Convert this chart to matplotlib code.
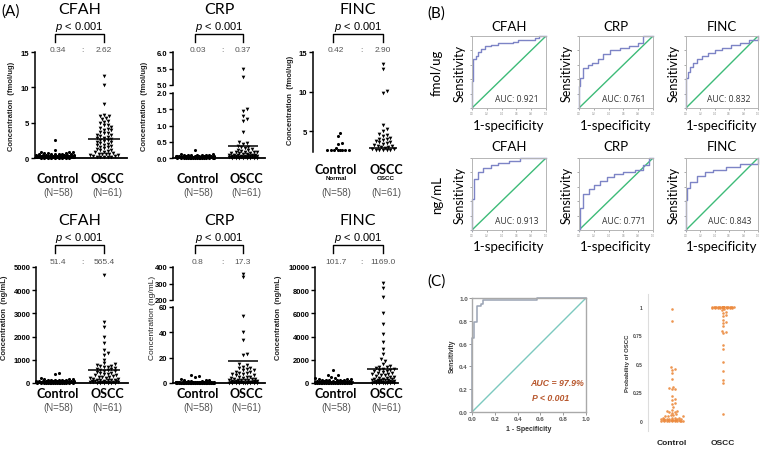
import numpy as np
import matplotlib
matplotlib.use('Agg')
import matplotlib.pyplot as plt
from matplotlib.lines import Line2D

plt.rcParams['mathtext.fontset'] = 'custom'
plt.rcParams['mathtext.it'] = 'Liberation Sans:italic'
plt.rcParams['mathtext.rm'] = 'Liberation Sans'

# ------------------------------------------------------------------ data
groups = ['Control', 'OSCC']
group_n = ['(N=58)', '(N=61)']
proteins = ['CFAH', 'CRP', 'FINC']

means_fmol = {'CFAH': [0.34, 2.62], 'CRP': [0.03, 0.37], 'FINC': [0.42, 2.90]}
means_ng = {'CFAH': [51.4, 565.4], 'CRP': [0.8, 17.3], 'FINC': [101.7, 1169.0]}

cfah_fmol_ctrl = [2.5, 1.2, 0.9, 0.85, 0.8, 0.75, 0.7, 0.65, 0.6, 0.6, 0.55, 0.5, 0.5, 0.5, 0.45,
                  0.45, 0.4, 0.4, 0.4, 0.4, 0.35, 0.35, 0.35, 0.3, 0.3, 0.3, 0.3, 0.3, 0.25, 0.25,
                  0.25, 0.25, 0.2, 0.2, 0.2, 0.2, 0.2, 0.15, 0.15, 0.15, 0.15, 0.1, 0.1, 0.1, 0.1,
                  0.1, 0.1, 0.08, 0.08, 0.06, 0.06, 0.05, 0.05, 0.04, 0.03, 0.03, 0.02, 0.02]
cfah_fmol_oscc = [11.6, 10.4, 7.7, 6.1, 6.0, 5.9, 5.7, 5.5, 5.3, 5.1, 4.9, 4.7, 4.6, 4.4, 4.3, 4.1,
                  4.0, 3.9, 3.7, 3.6, 3.5, 3.3, 3.2, 3.1, 3.0, 2.9, 2.8, 2.7, 2.6, 2.5, 2.4, 2.3,
                  2.2, 2.1, 2.0, 1.9, 1.8, 1.7, 1.6, 1.5, 1.4, 1.3, 1.2, 1.1, 1.0, 0.9, 0.8, 0.7,
                  0.6, 0.6, 0.5, 0.5, 0.4, 0.4, 0.3, 0.3, 0.2, 0.2, 0.1, 0.1, 0.1]
crp_fmol_ctrl = [0.25, 0.12, 0.11, 0.1, 0.1, 0.09, 0.09, 0.08, 0.08, 0.08, 0.07, 0.07, 0.07, 0.06,
                 0.06, 0.06, 0.06, 0.05, 0.05, 0.05, 0.05, 0.05, 0.04, 0.04, 0.04, 0.04, 0.04, 0.03,
                 0.03, 0.03, 0.03, 0.03, 0.03, 0.02, 0.02, 0.02, 0.02, 0.02, 0.02, 0.02, 0.01, 0.01,
                 0.01, 0.01, 0.01, 0.01, 0.01, 0.01, 0.005, 0.005, 0.005, 0.005, 0.005, 0.0, 0.0,
                 0.0, 0.0, 0.0]
crp_fmol_oscc = [5.5, 5.25, 1.5, 1.45, 1.3, 1.2, 1.15, 0.8, 0.5, 0.45, 0.42, 0.38, 0.35, 0.33, 0.3,
                 0.28, 0.26, 0.25, 0.22, 0.2, 0.2, 0.18, 0.17, 0.15, 0.15, 0.14, 0.12, 0.12, 0.1,
                 0.1, 0.1, 0.09, 0.08, 0.08, 0.07, 0.07, 0.06, 0.06, 0.05, 0.05, 0.05, 0.04, 0.04,
                 0.04, 0.03, 0.03, 0.03, 0.03, 0.02, 0.02, 0.02, 0.02, 0.02, 0.01, 0.01, 0.01,
                 0.01, 0.01, 0.01, 0.0, 0.0]
finc_fmol_ctrl = [4.75, 4.4, 3.5, 3.4, 2.9, 2.7, 2.7, 2.7, 2.7, 2.7, 2.7, 2.7, 2.7]
finc_fmol_oscc = [13.5, 12.9, 10.1, 9.8, 5.8, 5.3, 5.0, 4.7, 4.5, 4.4, 4.2, 4.1, 4.0, 3.9, 3.8,
                  3.7, 3.6, 3.5, 3.4, 3.3, 3.2, 3.1, 3.0, 3.0, 2.9, 2.8, 2.8, 2.7, 2.7, 2.7, 2.6, 2.6]

cfah_ng_ctrl = [430, 400, 210, 190, 170, 160, 150, 140, 130, 120, 115, 110, 105, 100, 95, 90, 85,
                80, 78, 75, 72, 70, 68, 65, 62, 60, 58, 55, 52, 50, 48, 45, 42, 40, 38, 35, 32, 30,
                28, 25, 22, 20, 18, 16, 15, 14, 12, 10, 9, 8, 7, 6, 5, 4, 3, 2, 1, 1]
cfah_ng_oscc = [4640, 2630, 2420, 1980, 1740, 1410, 1310, 1200, 1010, 850, 800, 780, 750, 720,
                700, 680, 650, 620, 600, 580, 550, 520, 500, 480, 450, 420, 400, 380, 350, 330,
                300, 280, 260, 240, 220, 200, 180, 160, 150, 140, 130, 120, 110, 100, 90, 80, 70,
                60, 55, 50, 45, 40, 35, 30, 25, 20, 15, 12, 10, 8, 5]
crp_ng_ctrl = [6.0, 5.5, 5.0, 3.0, 2.5, 2.0, 2.0, 1.5, 1.5, 1.2, 1.0, 1.0, 0.9, 0.8, 0.8, 0.7, 0.7,
               0.6, 0.6, 0.5, 0.5, 0.5, 0.4, 0.4, 0.4, 0.35, 0.3, 0.3, 0.3, 0.25, 0.25, 0.2, 0.2,
               0.2, 0.2, 0.15, 0.15, 0.15, 0.1, 0.1, 0.1, 0.1, 0.1, 0.08, 0.08, 0.06, 0.06, 0.05,
               0.05, 0.04, 0.03, 0.03, 0.02, 0.02, 0.01, 0.01, 0.0, 0.0]
crp_ng_oscc = [359, 339, 52.6, 40.3, 33.7, 23.2, 21.9, 15, 14, 13, 12, 12, 11, 10, 10, 9, 9, 8, 8,
               7, 7, 6, 6, 5, 5, 4.5, 4, 4, 3.5, 3, 3, 2.5, 2.5, 2, 2, 2, 1.5, 1.5, 1.5, 1.2, 1,
               1, 1, 0.8, 0.8, 0.6, 0.6, 0.5, 0.5, 0.4, 0.4, 0.3, 0.3, 0.2, 0.2, 0.2, 0.1, 0.1,
               0.1, 0.05, 0.05]
finc_ng_ctrl = [1090, 700, 650, 500, 450, 400, 380, 350, 320, 300, 280, 260, 250, 240, 220, 200,
                190, 180, 170, 160, 150, 140, 130, 120, 110, 100, 95, 90, 85, 80, 75, 70, 65, 60,
                55, 50, 45, 40, 38, 35, 32, 30, 28, 25, 22, 20, 18, 15, 12, 10, 9, 8, 7, 6, 5, 4,
                3, 2]
finc_ng_oscc = [8600, 8200, 7400, 6000, 5100, 4200, 3500, 2900, 2500, 2100, 1900, 1650, 1470,
                1400, 1350, 1300, 1250, 1200, 1150, 1100, 1050, 1000, 950, 900, 850, 800, 750,
                700, 650, 600, 550, 500, 450, 400, 380, 350, 320, 300, 280, 260, 240, 220, 200,
                180, 160, 140, 120, 100, 90, 80, 70, 60, 50, 40, 35, 30, 25, 20, 15, 10, 5]

# ROC curves (panel B) - step vertices
roc_fpr = {
    ('CFAH', 'f'): [0, 0, 0.02, 0.05, 0.08, 0.12, 0.17, 0.25, 0.35, 0.55, 0.62, 0.85, 0.9, 1.0],
    ('CRP', 'f'): [0, 0, 0.02, 0.05, 0.12, 0.18, 0.25, 0.32, 0.42, 0.55, 0.68, 0.8, 0.87, 1.0],
    ('FINC', 'f'): [0, 0, 0.03, 0.06, 0.1, 0.15, 0.22, 0.3, 0.4, 0.5, 0.62, 0.75, 0.88, 1.0],
    ('CFAH', 'n'): [0, 0, 0.03, 0.08, 0.15, 0.25, 0.35, 0.5, 0.65, 1.0],
    ('CRP', 'n'): [0, 0.02, 0.02, 0.06, 0.13, 0.2, 0.28, 0.38, 0.47, 0.6, 0.75, 0.87, 0.94, 1.0],
    ('FINC', 'n'): [0, 0, 0.02, 0.06, 0.15, 0.26, 0.38, 0.56, 0.75, 1.0],
}
roc_tpr = {
    ('CFAH', 'f'): [0, 0.38, 0.68, 0.72, 0.78, 0.82, 0.86, 0.88, 0.9, 0.92, 0.95, 0.97, 1.0, 1.0],
    ('CRP', 'f'): [0, 0.3, 0.42, 0.55, 0.6, 0.63, 0.68, 0.75, 0.8, 0.84, 0.86, 0.9, 1.0, 1.0],
    ('FINC', 'f'): [0, 0.42, 0.5, 0.57, 0.63, 0.68, 0.72, 0.76, 0.8, 0.83, 0.87, 0.9, 0.94, 1.0],
    ('CFAH', 'n'): [0, 0.43, 0.71, 0.8, 0.86, 0.9, 0.93, 0.96, 1.0, 1.0],
    ('CRP', 'n'): [0, 0, 0.3, 0.5, 0.57, 0.63, 0.68, 0.74, 0.78, 0.8, 0.83, 0.9, 1.0, 1.0],
    ('FINC', 'n'): [0, 0.42, 0.58, 0.66, 0.75, 0.8, 0.84, 0.88, 0.92, 1.0],
}
auc_f = {'CFAH': 0.921, 'CRP': 0.761, 'FINC': 0.832}
auc_n = {'CFAH': 0.913, 'CRP': 0.771, 'FINC': 0.843}

# panel C
rocc_fpr = [0, 0, 0.02, 0.02, 0.04, 0.04, 0.08, 0.08, 0.1, 0.1, 0.57, 0.57, 1.0]
rocc_tpr = [0, 0.65, 0.65, 0.79, 0.79, 0.93, 0.93, 0.95, 0.95, 0.98, 0.98, 1.0, 1.0]
auc_c = '97.9%'
prob_ctrl = [0.98, 0.88, 0.47, 0.46, 0.45, 0.42, 0.37, 0.30, 0.29, 0.28, 0.28, 0.22, 0.19, 0.18,
             0.16, 0.15, 0.12, 0.10, 0.09, 0.09, 0.08, 0.08, 0.07, 0.06, 0.05, 0.05, 0.04, 0.04,
             0.04, 0.03, 0.03, 0.03, 0.03, 0.02, 0.02, 0.02, 0.02, 0.02, 0.02, 0.01, 0.01, 0.01,
             0.01, 0.01, 0.01, 0.01, 0.01, 0.01, 0.0, 0.0, 0.0, 0.0, 0.0, 0.0, 0.0, 0.0, 0.0, 0.0]
prob_oscc = [1.0, 1.0, 1.0, 1.0, 1.0, 1.0, 1.0, 1.0, 1.0, 1.0, 1.0, 1.0, 1.0, 1.0, 1.0, 1.0, 1.0,
             1.0, 1.0, 1.0, 1.0, 1.0, 1.0, 1.0, 1.0, 1.0, 1.0, 1.0, 1.0, 1.0, 0.99, 0.99, 0.99,
             0.99, 0.99, 0.99, 0.99, 0.99, 0.98, 0.97, 0.96, 0.95, 0.93, 0.92, 0.89, 0.87, 0.86,
             0.83, 0.79, 0.78, 0.77, 0.67, 0.63, 0.52, 0.44, 0.36, 0.33, 0.06]

# ------------------------------------------------------------------ helpers
W, H = 760, 452
fig = plt.figure(figsize=(7.6, 4.52), dpi=100)
fig.patch.set_facecolor('white')

TITLE_FONT = ['Lato', 'DejaVu Sans']
ARIAL = ['Liberation Sans', 'DejaVu Sans']
NARROW = ['Liberation Sans Narrow', 'Liberation Sans', 'DejaVu Sans']


def fx(x):
    return x / W


def fy(y):
    return 1 - y / H


def add_ax(l, t, r, b):
    return fig.add_axes([l / W, 1 - b / H, (r - l) / W, (b - t) / H])


def ftext(x, y, s, **kw):
    kw.setdefault('ha', 'center')
    kw.setdefault('va', 'center')
    fig.text(fx(x), fy(y), s, **kw)


def fline(xs, ys, **kw):
    fig.add_artist(Line2D([fx(x) for x in xs], [fy(y) for y in ys],
                          transform=fig.transFigure, **kw))


def swarm_x(ax, xc, vals, diam, maxhalf):
    vals = np.asarray(vals, float)
    if len(vals) == 0:
        return np.array([])
    ypx = ax.transData.transform(np.column_stack([np.full(len(vals), xc), vals]))[:, 1]
    ux = ax.transData.transform((1, 0))[0] - ax.transData.transform((0, 0))[0]
    order = np.argsort(vals, kind='stable')
    step = diam * 0.55
    nmax = int(maxhalf / step)
    cands = [0.0]
    for k in range(1, nmax + 1):
        cands += [k * step, -k * step]
    px_, py_ = [], []
    offs = np.zeros(len(vals))
    for i in order:
        best, bestd = 0.0, -1.0
        for c in cands:
            if px_:
                d = np.min(np.hypot(np.array(px_) - c, np.array(py_) - ypx[i]))
            else:
                d = np.inf
            if d >= diam:
                best = c
                break
            if d > bestd:
                best, bestd = c, d
        offs[i] = best
        px_.append(best)
        py_.append(ypx[i])
    return xc + offs / ux


def dot_panel(left, right, xc, segs, ctrl, oscc, means, spread=(20, 15), bottom=True):
    unit = xc[1] - xc[0]
    axes = []
    for k, (t, b, ylim, ticks, tlabels) in enumerate(segs):
        ax = add_ax(left, t, right, b)
        ax.set_xlim((left - xc[0]) / unit, (right - xc[0]) / unit)
        ax.set_ylim(*ylim)
        ax.patch.set_alpha(0)
        for s in ['top', 'right']:
            ax.spines[s].set_visible(False)
        is_bottom = (k == len(segs) - 1)
        ax.spines['bottom'].set_visible(is_bottom and bottom)
        ax.spines['left'].set_linewidth(1.1)
        ax.spines['bottom'].set_linewidth(1.3)
        ax.set_xticks([])
        ax.set_yticks(ticks)
        ax.set_yticklabels(tlabels, fontsize=5.5, fontweight='bold', family=NARROW)
        ax.tick_params(axis='y', direction='out', length=3, width=1, pad=1)
        for gi, (vals, mk, sz) in enumerate([(ctrl, 'o', 5), (oscc, 'v', 7)]):
            v = [a for a in vals if ylim[0] <= a <= ylim[1]]
            xs = swarm_x(ax, gi, v, 3.2, spread[gi])
            ax.scatter(xs, v, marker=mk, s=sz, color='black', linewidths=0, clip_on=False,
                       zorder=3)
            m = means[gi]
            if ylim[0] <= m <= ylim[1]:
                half = 0.42 if gi == 0 else 0.32
                ax.plot([gi - half, gi + half], [m, m], color='black', lw=1.1, zorder=4,
                        solid_capstyle='butt')
        axes.append(ax)
    return axes


def panel_text(xc, ytitle, title, means, fmt):
    mid = (xc[0] + xc[1]) / 2
    ftext(mid, ytitle, title, fontsize=11.5, family=TITLE_FONT)
    ftext(mid, ytitle + 17, r'$p$ < 0.001', fontsize=8, family=ARIAL)
    fline([xc[0], xc[0], xc[1], xc[1]], [ytitle + 33, ytitle + 25, ytitle + 25, ytitle + 33],
          color='black', lw=1)
    ftext(xc[0] + 3, ytitle + 41, fmt.format(means[0]), fontsize=6, color='#555555',
          family=ARIAL)
    ftext(mid + 3, ytitle + 41, ':', fontsize=6, color='#555555', family=ARIAL)
    ftext(xc[1], ytitle + 41, fmt.format(means[1]), fontsize=6, color='#555555', family=ARIAL)


def group_labels(xc, y, ny, sub=None):
    for i in range(2):
        ftext(xc[i] + 3, y, groups[i], fontsize=9, fontweight='bold', family=TITLE_FONT)
        ftext(xc[i] + 3, ny, group_n[i], fontsize=7, color='#555555', family=ARIAL)
        if sub is not None:
            ftext(xc[i] + 3, y + 9, sub[i], fontsize=4.5, fontweight='bold', family=ARIAL)


# ------------------------------------------------------------------ panel A
ftext(11, 12, '(A)', fontsize=11, family=TITLE_FONT)

# top row (fmol/ug)
xc1 = (55, 104)
dot_panel(35, 127, xc1, [(53, 159, (0, 15), [0, 5, 10, 15], ['0', '5', '10', '15'])],
          cfah_fmol_ctrl, cfah_fmol_oscc, means_fmol['CFAH'])
panel_text(xc1, 10, 'CFAH', means_fmol['CFAH'], '{:.2f}')
group_labels(xc1, 179, 193)
ftext(12, 106, 'Concentration  (fmol/ug)', rotation=90, fontsize=5.5, fontweight='bold',
      family=ARIAL, color='#222222')

xc2 = (195, 243)
dot_panel(173, 265, xc2,
          [(53, 86, (5.0, 6.0), [5.0, 5.5, 6.0], ['5.0', '5.5', '6.0']),
           (94, 159, (0, 2.0), [0, 0.5, 1.0, 1.5, 2.0], ['0.0', '0.5', '1.0', '1.5', '2.0'])],
          crp_fmol_ctrl, crp_fmol_oscc, means_fmol['CRP'])
panel_text(xc2, 10, 'CRP', means_fmol['CRP'], '{:.2f}')
group_labels(xc2, 179, 193)
ftext(145, 106, 'Concentration  (fmol/ug)', rotation=90, fontsize=5.5, fontweight='bold',
      family=ARIAL, color='#222222')

xc3 = (338, 383)
dot_panel(313, 398, xc3, [(53, 153, (2.4, 15), [5, 10, 15], ['5', '10', '15'])],
          finc_fmol_ctrl, finc_fmol_oscc, means_fmol['FINC'], spread=(13, 11), bottom=False)
panel_text((333, 383), 10, 'FINC', means_fmol['FINC'], '{:.2f}')
group_labels((333, 383), 170, 193, sub=['Normal', 'OSCC'])
ftext(290, 100, 'Concentration  (fmol/ug)', rotation=90, fontsize=5.5, fontweight='bold',
      family=ARIAL, color='#222222')

# bottom row (ng/mL)
dot_panel(36, 128, xc1, [(268, 384, (0, 5000), [0, 1000, 2000, 3000, 4000, 5000],
                          ['0', '1000', '2000', '3000', '4000', '5000'])],
          cfah_ng_ctrl, cfah_ng_oscc, means_ng['CFAH'])
panel_text(xc1, 221, 'CFAH', means_ng['CFAH'], '{:.1f}')
group_labels(xc1, 394, 408)
ftext(5, 318, 'Concentration  (ng/mL)', rotation=90, fontsize=5.5, fontweight='bold',
      family=ARIAL, color='#222222')

dot_panel(173, 265, xc2,
          [(268, 301, (200, 400), [200, 300, 400], ['200', '300', '400']),
           (308, 384, (0, 60), [0, 20, 40, 60], ['0', '20', '40', '60'])],
          crp_ng_ctrl, crp_ng_oscc, means_ng['CRP'])
panel_text(xc2, 221, 'CRP', means_ng['CRP'], '{:.1f}')
group_labels(xc2, 394, 408)
ftext(152, 318, 'Concentration (ng/mL)', rotation=90, fontsize=6, family=NARROW,
      color='#222222')

dot_panel(315, 398, (333, 383), [(268, 384, (0, 10000), [0, 2000, 4000, 6000, 8000, 10000],
                                  ['0', '2000', '4000', '6000', '8000', '10000'])],
          finc_ng_ctrl, finc_ng_oscc, means_ng['FINC'], spread=(18, 11))
panel_text((333, 383), 221, 'FINC', means_ng['FINC'], '{:.1f}')
group_labels((333, 383), 394, 408)
ftext(279, 318, 'Concentration  (ng/mL)', rotation=90, fontsize=5.5, fontweight='bold',
      family=ARIAL, color='#222222')

# ------------------------------------------------------------------ panel B
ftext(436, 14, '(B)', fontsize=11, family=TITLE_FONT)
ROC_BLUE = '#7d84c6'
DIAG_GREEN = '#3dbb78'
bx = [(472, 546), (579, 653), (686, 758)]
rows = [('f', 37, 109, 27, 126, auc_f), ('n', 159, 231, 147, 247, auc_n)]
for key, t, b, ty, xly, aucs in rows:
    for j, p in enumerate(proteins):
        l, r = bx[j]
        ax = add_ax(l, t, r, b)
        ax.set_xlim(0, 1)
        ax.set_ylim(0, 1)
        ax.plot([0, 1], [0, 1], color=DIAG_GREEN, lw=1)
        ax.plot(roc_fpr[(p, key)], roc_tpr[(p, key)], drawstyle='steps-post', color=ROC_BLUE,
                lw=1, clip_on=False)
        for s in ax.spines.values():
            s.set_color('#b5b5b5')
            s.set_linewidth(0.7)
        ticks = [0, 0.2, 0.4, 0.6, 0.8, 1.0]
        ax.set_xticks(ticks)
        ax.set_yticks(ticks)
        ax.set_xticklabels(['0.0', '0.2', '0.4', '0.6', '0.8', '1.0'], fontsize=1.8,
                           color='#888888')
        ax.set_yticklabels([])
        ax.tick_params(length=1.5, width=0.5, color='#888888', pad=1)
        ax.text(0.6, 0.13, 'AUC: {:.3f}'.format(aucs[p]), transform=ax.transAxes,
                ha='center', va='center', fontsize=6.2, color='#333333',
                family=['Open Sans', 'DejaVu Sans'])
        ftext((l + r) / 2, ty, p, fontsize=9.5, family=TITLE_FONT)
        ftext((l + r) / 2, xly, '1-specificity', fontsize=9.5, family=TITLE_FONT)
        ftext(l - 12, (t + b) / 2, 'Sensitivity', rotation=90, fontsize=9, family=TITLE_FONT)
ftext(437, 73, 'fmol/ug', rotation=90, fontsize=9.5, family=TITLE_FONT)
ftext(437, 195, 'ng/mL', rotation=90, fontsize=9.5, family=TITLE_FONT)

# ------------------------------------------------------------------ panel C
ftext(437, 282, '(C)', fontsize=11, family=TITLE_FONT)
axc = add_ax(472, 299, 586, 413)
axc.set_xlim(0, 1)
axc.set_ylim(0, 1)
axc.plot([0, 1], [0, 1], color='#7cc9bf', lw=1)
axc.plot(rocc_fpr, rocc_tpr, color='#9aa3b4', lw=1.1, clip_on=False)
for s in axc.spines.values():
    s.set_color('#a9a9a9')
    s.set_linewidth(1)
ct = [0, 0.2, 0.4, 0.6, 0.8, 1.0]
axc.set_xticks(ct)
axc.set_yticks(ct)
axc.set_xticklabels(['0.0', '0.2', '0.4', '0.6', '0.8', '1.0'], fontsize=4.5,
                    fontweight='bold', color='#555555', family=ARIAL)
axc.set_yticklabels(['0.0', '0.2', '0.4', '0.6', '0.8', '1.0'], fontsize=4.5,
                    fontweight='bold', color='#555555', family=ARIAL)
axc.tick_params(length=2, width=0.6, color='#888888', pad=1)
axc.set_xlabel('1 - Specificity', fontsize=5, fontweight='bold', color='#333333',
               family=ARIAL, labelpad=3)
axc.set_ylabel('Sensitivity', fontsize=4.8, fontweight='bold', color='#333333',
               family=ARIAL, labelpad=2)
axc.text(0.75, 0.26, 'AUC = ' + auc_c, transform=axc.transAxes, ha='center', va='center',
         fontsize=6.3, fontweight='bold', style='italic', color='#b8582e', family=ARIAL)
axc.text(0.69, 0.13, 'P < 0.001', transform=axc.transAxes, ha='center', va='center',
         fontsize=6.3, fontweight='bold', style='italic', color='#b8582e', family=ARIAL)

# probability scatter
axp = add_ax(648, 295, 760, 432)
ux0, ux1 = 672, 723
u = ux1 - ux0
axp.set_xlim((648 - ux0) / u, (760 - ux0) / u)
py0, py1 = 422, 308
pu = py0 - py1
axp.set_ylim((py0 - 432) / pu, (py0 - 295) / pu)
axp.patch.set_alpha(0)
for s in ['top', 'right', 'bottom']:
    axp.spines[s].set_visible(False)
axp.spines['left'].set_color('#dddddd')
axp.spines['left'].set_linewidth(0.8)
axp.set_yticks([0, 0.25, 0.5, 0.75, 1])
axp.set_yticklabels(['0', '0.25', '0.5', '0.75', '1'], fontsize=3.5, fontweight='bold',
                    color='#444444', family=ARIAL)
axp.tick_params(axis='y', length=0, pad=4)
axp.set_xticks([0, 1])
axp.set_xticklabels(groups, fontsize=6, fontweight='bold', color='#222222', family=ARIAL)
axp.tick_params(axis='x', length=0, pad=6)
axp.set_ylabel('Probability of OSCC', fontsize=4.3, fontweight='bold', color='#333333',
               family=ARIAL, labelpad=2)
ORANGE = '#ec8a3e'
for gi, vals in enumerate([prob_ctrl, prob_oscc]):
    xs = swarm_x(axp, gi, vals, 2.4, 11)
    axp.scatter(xs, vals, s=3.5, color=ORANGE, linewidths=0, alpha=0.9, clip_on=False)

fig.savefig('out.png', dpi=100, facecolor='white')
